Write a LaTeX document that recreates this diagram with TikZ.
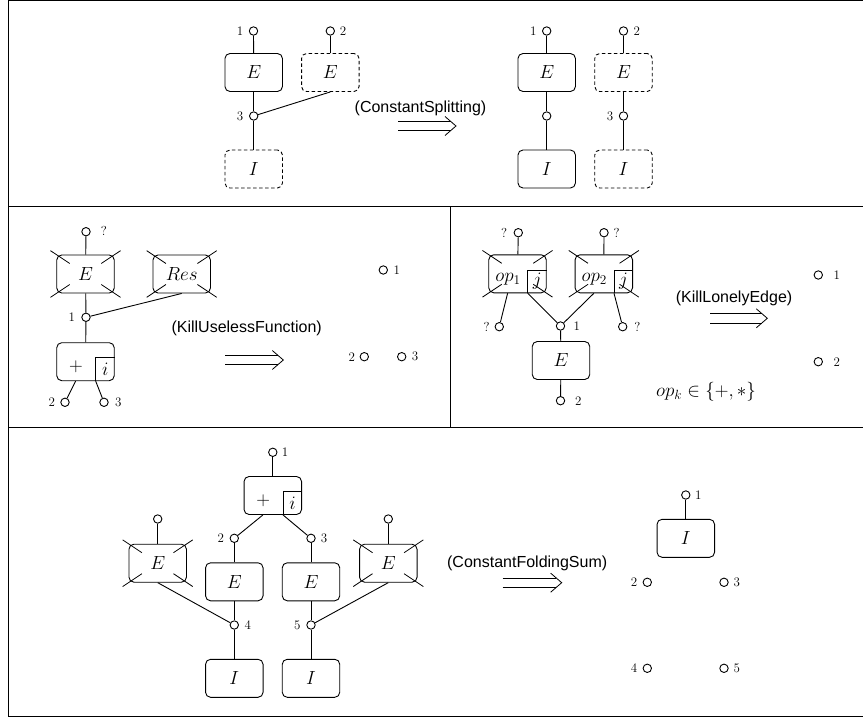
\RequirePackage{fix-cm}
\documentclass[tikz,border=0pt]{standalone}
\usepackage{fontspec}
\newfontfamily\rulefont{Liberation Sans}
\usetikzlibrary{calc}

\newcommand\mathsz{\fontsize{19}{22}\selectfont}
\newcommand\numsz{\fontsize{13}{15}\selectfont}
\newcommand\rulesz{\rulefont\fontsize{16}{19}\selectfont}

% box with an operator on the left and an index cell in the lower right corner
\newcommand\opbox[4]{%
  \node[fn] (#1) at (#2) {};
  \coordinate (#1-c) at ($(#1.south east)+(-19,-23.3)$);
  \coordinate (#1-l) at ($(#1.south west)+(19.3,0)$);
  \coordinate (#1-r) at (#1-c |- #1.south);
  \draw (#1-r) -- (#1-c) -- (#1-c -| #1.east);
  \node[txt] (#1-op) at ($(#1.center)+(-9.5,5.5)$) {$#3$};
  \node[txt] (#1-ix) at ($(#1-c)!0.5!(#1.south east)$) {$#4$};
}

% short diagonal strokes across the four corners of a removed box
\newcommand\killbox[1]{%
  \foreach \cn in {north west,north east,south west,south east}{%
    \draw[stroke] ($(#1.\cn)!-0.2!(#1.center)$) -- ($(#1.\cn)!0.46!(#1.center)$);
  }%
}

% rewriting arrow: two rails and a chevron head
\newcommand\rulearrow[3]{%
  \draw[stroke] (#1,#3-4.7) -- (#2-5.5,#3-4.7);
  \draw[stroke] (#1,#3+4.7) -- (#2-5.5,#3+4.7);
  \draw[stroke] (#2-11,#3-9.5) -- (#2,#3) -- (#2-11,#3+9.5);
}

\begin{document}
\begin{tikzpicture}[x=1pt,y=-1pt,line width=0.9pt,
  fn/.style={draw,rounded corners=5pt,minimum width=57.5pt,minimum height=38pt,inner sep=0pt,font=\mathsz},
  ghost/.style={fn,dash pattern=on 3.5pt off 2.5pt},
  port/.style={circle,draw,minimum size=8.4pt,inner sep=0pt},
  lab/.style={inner sep=0pt,font=\numsz},
  txt/.style={inner sep=0pt,font=\mathsz},
  rulename/.style={inner sep=0pt,font=\rulesz},
  frame/.style={line width=1.2pt},
  stroke/.style={line width=0.8pt}]
\useasboundingbox (0,0) rectangle (863,717);

% frame and panel dividers
\draw[frame] (8.5,0.6) rectangle (868,716.3);
\draw[frame] (8.5,206.7) -- (868,206.7);
\draw[frame] (8.5,427.3) -- (868,427.3);
\draw[frame] (450.5,206.7) -- (450.5,427.3);

% ---------- ConstantSplitting ----------
\node[port] (p1a) at (253.5,31) {};
\node[lab] (p1a-l) at (240,31) {1};
\node[fn] (E1a) at (253.7,72.5) {$E$};
\node[ghost] (E2a) at (330.3,72.5) {$E$};
\node[port] (p2a) at (330.3,31) {};
\node[lab] (p2a-l) at (343,31) {2};
\node[port] (p3a) at (253.7,116) {};
\node[lab] (p3a-l) at (240,116) {3};
\node[ghost] (I1a) at (253.7,169) {$I$};
\draw (p1a) -- (E1a);
\draw (E1a) -- (p3a);
\draw (p3a) -- (I1a);
\draw (p3a) -- (E2a.south);
\draw (p2a) -- (E2a);

\node[rulename] (r1) at (420.5,108) {(ConstantSplitting)};
\rulearrow{398}{456}{126}

\node[port] (p1b) at (546.7,31) {};
\node[lab] (p1b-l) at (533.3,31) {1};
\node[fn] (E1b) at (546.7,72.5) {$E$};
\node[port] (p3b) at (546.7,116) {};
\node[fn] (I1b) at (546.7,169) {$I$};
\node[port] (p2b) at (623.5,31) {};
\node[lab] (p2b-l) at (636.7,31) {2};
\node[ghost] (E2b) at (623.5,72.5) {$E$};
\node[port] (p4b) at (623.5,116) {};
\node[lab] (p4b-l) at (610,116) {3};
\node[ghost] (I2b) at (623.5,169) {$I$};
\draw (p1b) -- (E1b);
\draw (E1b) -- (p3b);
\draw (p3b) -- (I1b);
\draw (p2b) -- (E2b);
\draw (E2b) -- (p4b);
\draw (p4b) -- (I2b);

% ---------- KillUselessFunction ----------
\node[port] (pq) at (86,231.7) {};
\node[lab] (pq-l) at (104,231) {?};
\node[fn] (Ex) at (85.5,274) {$E$};
\node[fn] (Rx) at (181.7,274) {$Res$};
\node[port] (p1c) at (86,317.3) {};
\node[lab] (p1c-l) at (71.7,317.3) {1};
\opbox{Sc}{85.5,361.7}{+}{i}
\node[port] (p2c) at (65,402.3) {};
\node[lab] (p2c-l) at (51.7,402.3) {2};
\node[port] (p3c) at (104,402.3) {};
\node[lab] (p3c-l) at (118.3,402.3) {3};
\draw (pq) -- (Ex);
\draw (Ex) -- (p1c);
\draw (p1c) -- (Rx.south);
\draw (p1c) -- (Sc);
\draw (Sc-l) -- (p2c);
\draw (Sc-r) -- (p3c);
\killbox{Ex}
\killbox{Rx}

\node[rulename] (r2) at (246.7,328.3) {(KillUselessFunction)};
\rulearrow{225}{283.3}{360}

\node[port] (q1) at (383.3,270) {};
\node[lab] (q1-l) at (396.7,270) {1};
\node[port] (q2) at (364.3,356.7) {};
\node[lab] (q2-l) at (351.7,356.7) {2};
\node[port] (q3) at (401.7,356.7) {};
\node[lab] (q3-l) at (415,356.7) {3};

% ---------- KillLonelyEdge ----------
\opbox{O1}{517.5,273.8}{op_1}{j}
\opbox{O2}{603.8,273.8}{op_2}{j}
\node[port] (o1t) at (518.3,232.7) {};
\node[lab] (o1t-l) at (504,232.7) {?};
\node[port] (o2t) at (604,232.7) {};
\node[lab] (o2t-l) at (616.7,232.7) {?};
\node[port] (o1b) at (499.3,326.7) {};
\node[lab] (o1b-l) at (486.7,326.7) {?};
\node[port] (o2b) at (622.7,326.7) {};
\node[lab] (o2b-l) at (637.3,326.7) {?};
\node[port] (m1) at (560.5,326) {};
\node[lab] (m1-l) at (576.7,326) {1};
\node[fn] (Ec) at (561,360.5) {$E$};
\node[port] (m2) at (560.5,400.7) {};
\node[lab] (m2-l) at (578.3,400.7) {2};
\draw (o1t) -- (O1);
\draw (o2t) -- (O2);
\draw (O1-l) -- (o1b);
\draw (O1-r) -- (m1);
\draw (O2-l) -- (m1);
\draw (O2-r) -- (o2b);
\draw (m1) -- (Ec);
\draw (Ec) -- (m2);
\killbox{O1}
\killbox{O2}

\node[rulename] (r3) at (734,298.3) {(KillLonelyEdge)};
\rulearrow{710}{767.3}{318.3}
\node[txt] (opk) at (706,392) {$op_k\in\{+,*\}$};

\node[port] (s1) at (818.3,275) {};
\node[lab] (s1-l) at (836.7,275) {1};
\node[port] (s2) at (818.3,361.7) {};
\node[lab] (s2-l) at (836.7,361.7) {2};

% ---------- ConstantFoldingSum ----------
\node[port] (t1) at (272.8,452.3) {};
\node[lab] (t1-l) at (285,452.3) {1};
\opbox{Sd}{272.8,495.5}{+}{i}
\node[port] (t2) at (234.3,538.3) {};
\node[lab] (t2-l) at (220.7,538.3) {2};
\node[port] (t3) at (311,538.3) {};
\node[lab] (t3-l) at (324,538.3) {3};
\node[fn] (Ed1) at (234.3,581.8) {$E$};
\node[fn] (Ed2) at (311,581.8) {$E$};
\node[port] (t4) at (234.3,625) {};
\node[lab] (t4-l) at (247.7,625) {4};
\node[port] (t5) at (311,625) {};
\node[lab] (t5-l) at (297.3,625) {5};
\node[fn] (Id1) at (234.3,678.3) {$I$};
\node[fn] (Id2) at (311,678.3) {$I$};
\node[fn] (Xl) at (157.7,563.2) {$E$};
\node[port] (xl) at (157.7,519) {};
\node[fn] (Xr) at (388.3,563.2) {$E$};
\node[port] (xr) at (388.3,519) {};
\draw (t1) -- (Sd);
\draw (Sd-l) -- (t2);
\draw (Sd-r) -- (t3);
\draw (t2) -- (Ed1);
\draw (t3) -- (Ed2);
\draw (Ed1) -- (t4);
\draw (Ed2) -- (t5);
\draw (t4) -- (Id1);
\draw (t5) -- (Id2);
\draw (xl) -- (Xl);
\draw (xr) -- (Xr);
\draw (Xl.south) -- (t4);
\draw (Xr.south) -- (t5);
\killbox{Xl}
\killbox{Xr}

\node[rulename] (r4) at (527.2,563.3) {(ConstantFoldingSum)};
\rulearrow{502.7}{561.7}{582.7}

\node[port] (u1) at (685.8,495) {};
\node[lab] (u1-l) at (698.3,495) {1};
\node[fn] (Iu) at (685.8,538.3) {$I$};
\node[port] (u2) at (647.3,582.3) {};
\node[lab] (u2-l) at (634,582.3) {2};
\node[port] (u3) at (724,582.3) {};
\node[lab] (u3-l) at (736.7,582.3) {3};
\node[port] (u4) at (647.3,668.3) {};
\node[lab] (u4-l) at (634,668.3) {4};
\node[port] (u5) at (724,668.3) {};
\node[lab] (u5-l) at (736.7,668.3) {5};
\draw (u1) -- (Iu);
\end{tikzpicture}
\end{document}
